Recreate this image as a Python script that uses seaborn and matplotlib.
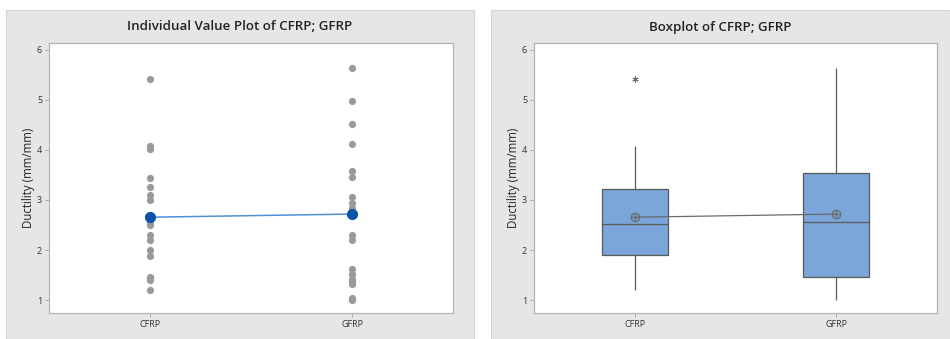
import matplotlib
matplotlib.use("Agg")
import matplotlib.pyplot as plt
from matplotlib.patches import Rectangle
import seaborn as sns
import pandas as pd
import numpy as np

# ---- data ----
categories = ["CFRP", "GFRP"]
cfrp = [5.42, 4.08, 4.02, 3.43, 3.25, 3.10, 3.00, 2.55, 2.53, 2.50, 2.30,
        2.20, 2.00, 1.88, 1.47, 1.45, 1.41, 1.21]
gfrp = [5.63, 4.97, 4.52, 4.11, 3.58, 3.45, 3.07, 2.93, 2.83, 2.30, 2.20,
        1.63, 1.52, 1.43, 1.38, 1.33, 1.05, 1.01]
yticks = [1, 2, 3, 4, 5, 6]
titles = ["Individual Value Plot of CFRP; GFRP", "Boxplot of CFRP; GFRP"]
ylabel = "Ductility (mm/mm)"

df = pd.DataFrame({
    "Material": ["CFRP"] * len(cfrp) + ["GFRP"] * len(gfrp),
    "Ductility": cfrp + gfrp,
})

sns.set_theme(style="white")
plt.rcParams["font.family"] = ["Open Sans", "DejaVu Sans"]

W, H = 950, 339
fig = plt.figure(figsize=(W / 100, H / 100), dpi=100)
fig.patch.set_facecolor("white")

panel_col = "#e6e6e6"
for x0, x1 in [(6, 474), (491, 950)]:
    fig.add_artist(Rectangle((x0 / W, 0), (x1 - x0) / W, 1 - 10 / H,
                             transform=fig.transFigure, facecolor=panel_col,
                             edgecolor="#d4d4d4", linewidth=0.8, zorder=0))

ax1 = fig.add_axes([49 / W, 26 / H, 404 / W, 270 / H])
ax2 = fig.add_axes([534 / W, 26 / H, 403 / W, 270 / H])

# ---- individual value plot ----
sns.stripplot(data=df, x="Material", y="Ductility", order=categories,
              jitter=False, color="#9a9a9a", size=5.2, linewidth=0, ax=ax1,
              zorder=2)
sns.pointplot(data=df, x="Material", y="Ductility", order=categories,
              errorbar=None, color="#4f8fd6", markers="", linestyles="-",
              linewidth=1.1, ax=ax1)
sns.pointplot(data=df, x="Material", y="Ductility", order=categories,
              errorbar=None, color="#0a54a8", markers="o", linestyles="none",
              markersize=6, ax=ax1)

# ---- boxplot ----
sns.boxplot(data=df, x="Material", y="Ductility", order=categories,
            width=0.33, color="#7aa6d9", saturation=1, showcaps=False,
            linecolor="#5a5a5a", linewidth=0.9,
            flierprops=dict(marker=(6, 2, 0), markersize=4.5,
                            markerfacecolor="#6a6a6a",
                            markeredgecolor="#6a6a6a", markeredgewidth=0.7),
            ax=ax2)
sns.pointplot(data=df, x="Material", y="Ductility", order=categories,
              errorbar=None, color="#6a6a6a", markers="o", linestyles="-",
              linewidth=0.9, markersize=6, markerfacecolor="none",
              markeredgewidth=0.9, ax=ax2)
sns.pointplot(data=df, x="Material", y="Ductility", order=categories,
              errorbar=None, color="#6a6a6a", markers="+", linestyles="none",
              markersize=6, markeredgewidth=0.9, ax=ax2)

for ax, title, cx in [(ax1, titles[0], 240), (ax2, titles[1], 720)]:
    ax.set_facecolor("white")
    ax.set_xlim(-0.5, 1.5)
    ax.set_ylim(0.74, 6.14)
    ax.set_yticks(yticks)
    ax.set_yticklabels([str(t) for t in yticks])
    ax.set_xlabel("")
    ax.set_ylabel(ylabel, fontsize=8.3, color="#222222", labelpad=1)
    ax.tick_params(axis="both", which="both", direction="out", length=3,
                   width=0.6, color="#a0a0a0", labelsize=6.5,
                   labelcolor="#333333", left=True, bottom=True, pad=2)
    for lab in ax.get_xticklabels():
        lab.set_fontsize(6.5)
    for s in ax.spines.values():
        s.set_color("#b4b4b4")
        s.set_linewidth(0.9)
    fig.text(cx / W, 1 - 27 / H, title, ha="center", va="center",
             fontsize=9.6, fontweight="semibold", color="#222222")

fig.savefig("out.png", dpi=100, facecolor=fig.get_facecolor())
